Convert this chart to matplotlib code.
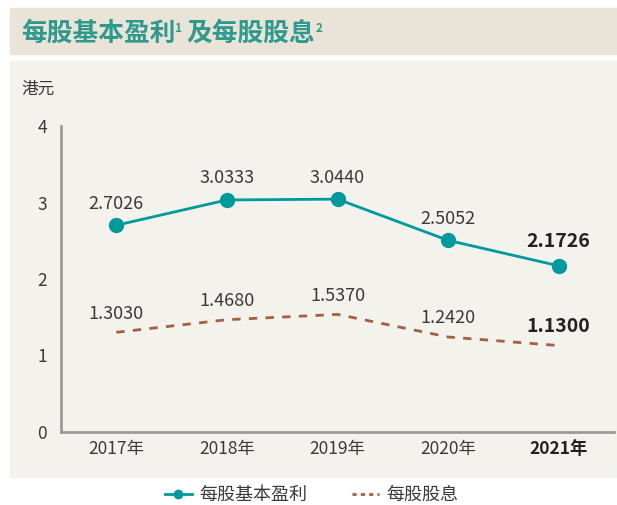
import matplotlib.pyplot as plt
import matplotlib.patches as mpatches
from matplotlib.lines import Line2D

plt.rcParams['font.family'] = ['Noto Sans CJK TC', 'DejaVu Sans']

years = ['2017年', '2018年', '2019年', '2020年', '2021年']
eps = [2.7026, 3.0333, 3.0440, 2.5052, 2.1726]
dps = [1.3030, 1.4680, 1.5370, 1.2420, 1.1300]
eps_labels = ['2.7026', '3.0333', '3.0440', '2.5052', '2.1726']
dps_labels = ['1.3030', '1.4680', '1.5370', '1.2420', '1.1300']
title_parts = [('每股基本盈利', False), ('1', True), ('及每股股息', False), ('2', True)]

teal = '#00999C'
brown = '#A65E42'
text_col = '#3A3A3A'
title_col = '#2E9A8E'

fig = plt.figure(figsize=(6.17, 5.05), dpi=100)
fig.patch.set_facecolor('white')

# header band and chart panel
fig.patches.append(mpatches.Rectangle((10 / 617, 1 - 54 / 505), 607 / 617, 46 / 505,
                                      transform=fig.transFigure, color='#EAE3D7', zorder=-10))
fig.patches.append(mpatches.Rectangle((10 / 617, 1 - 477 / 505), 607 / 617, 416 / 505,
                                      transform=fig.transFigure, color='#F3F2ED', zorder=-10))

# title drawn piece by piece so the footnote marks sit small and raised
renderer = fig.canvas.get_renderer()
xpos = 21
for part, sup in title_parts:
    if sup:
        t = fig.text(xpos / 617, 1 - 28 / 505, part, color=title_col, fontsize=8.5,
                     fontweight='bold', va='center', ha='left')
        xpos = t.get_window_extent(renderer).x1 + 4
    else:
        t = fig.text(xpos / 617, 1 - 33 / 505, part, color=title_col, fontsize=18.5,
                     fontweight='bold', va='center', ha='left')
        xpos = t.get_window_extent(renderer).x1

fig.text(21 / 617, 1 - 89 / 505, '港元', color=text_col, fontsize=12, va='center', ha='left')

ax = fig.add_axes([61 / 617, 73 / 505, 553 / 617, 306 / 505])
ax.set_facecolor('none')
x = list(range(len(years)))

ax.plot(x, eps, color=teal, lw=2, marker='o', markersize=10, zorder=3)
ax.plot(x, dps, color=brown, lw=2, linestyle=(0, (3, 3)), zorder=3)

for i in x:
    bold = i == len(x) - 1
    ax.annotate(eps_labels[i], (i, eps[i]), xytext=(0, 9 if not bold else 11), textcoords='offset points',
                ha='center', va='bottom', fontsize=13 if not bold else 14,
                fontweight='bold' if bold else 'normal', color='#222222' if bold else text_col)
    ax.annotate(dps_labels[i], (i, dps[i]), xytext=(0, 7), textcoords='offset points',
                ha='center', va='bottom', fontsize=13 if not bold else 14,
                fontweight='bold' if bold else 'normal', color='#222222' if bold else text_col)

ax.set_xlim(-0.5, 4.5)
ax.set_ylim(0, 4)
ax.set_yticks([0, 1, 2, 3, 4])
ax.set_xticks(x)
ax.set_xticklabels(years)
ax.tick_params(axis='both', length=0, labelsize=12.5, colors=text_col)
ax.tick_params(axis='y', pad=10)
ax.tick_params(axis='x', pad=6)
ax.get_xticklabels()[-1].set_fontweight('bold')
ax.get_xticklabels()[-1].set_color('#222222')

for side in ['top', 'right']:
    ax.spines[side].set_visible(False)
for side in ['left', 'bottom']:
    ax.spines[side].set_color('#9B9B9B')
    ax.spines[side].set_linewidth(2)

handles = [Line2D([], [], color=teal, lw=2, marker='o', markersize=6),
           Line2D([], [], color=brown, lw=2, linestyle=(0, (1.5, 1.5)))]
fig.legend(handles, ['每股基本盈利', '每股股息'], loc='center', bbox_to_anchor=(0.505, 1 - 495 / 505),
           ncol=2, frameon=False, fontsize=13, handlelength=1.5, columnspacing=2.5,
           labelcolor=text_col, handletextpad=0.4)

fig.savefig('out.png', dpi=100)
